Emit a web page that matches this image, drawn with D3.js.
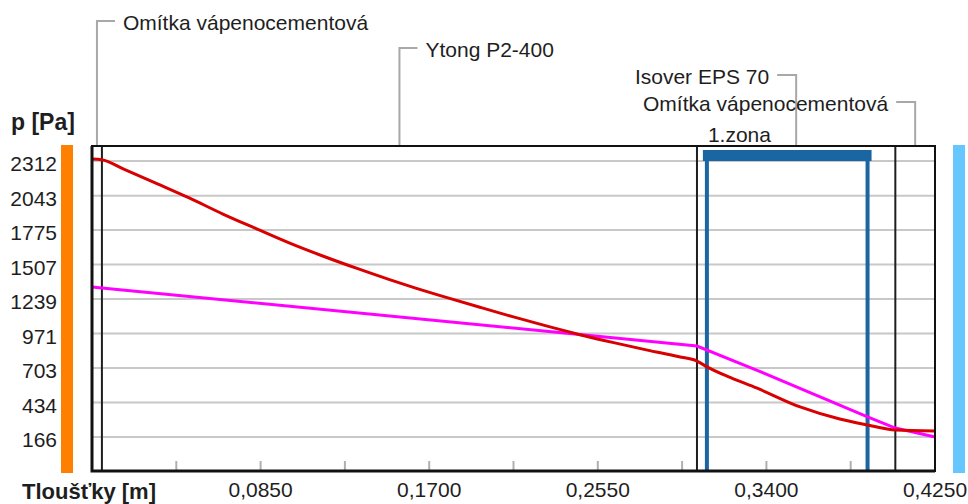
<!DOCTYPE html>
<html>
<head>
<meta charset="utf-8">
<script src="https://cdn.jsdelivr.net/npm/d3@7"></script>
<style>
  body { margin: 0; background: #fff; }
  text { font-family: "Liberation Sans", Arial, sans-serif; fill: #1e1e1e; }
</style>
</head>
<body>
<div id="grafico"></div>
<script>
// vrstvy konstrukce
const layerNames = ["Omítka vápenocementová", "Ytong P2-400", "Isover EPS 70", "Omítka vápenocementová"]
const layerThickness = [0.005, 0.300, 0.100, 0.020]

// kondenzacni zona
const zoneName = "1.zona"
const zoneFrom = 0.310
const zoneTo = 0.391

// cervena krivka (tlak nasycene vodni pary)
const satX = [0, 0.005, 0.016, 0.033, 0.049, 0.066, 0.083, 0.100, 0.117, 0.134, 0.150, 0.162, 0.179, 0.196, 0.212, 0.229, 0.246, 0.263, 0.280, 0.296, 0.305, 0.310, 0.322, 0.335, 0.357, 0.377, 0.391, 0.405, 0.425]
const satP = [2328, 2322, 2250, 2135, 2025, 1900, 1785, 1672, 1570, 1475, 1390, 1330, 1250, 1173, 1102, 1030, 962, 900, 842, 790, 757, 712, 628, 548, 400, 306, 260, 220, 213]

// fialova krivka (castecny tlak vodni pary)
const parX = [0, 0.005, 0.305, 0.335, 0.391, 0.405, 0.425]
const parP = [1332, 1325, 874, 687, 322, 236, 166]

// popisky os
const yTicks = [166, 434, 703, 971, 1239, 1507, 1775, 2043, 2312]
const xTicks = [0.085, 0.170, 0.255, 0.340, 0.425]
const xMinorTicks = [0.0425, 0.085, 0.1275, 0.170, 0.2125, 0.255, 0.2975, 0.340, 0.3825]

const W = 968, H = 504
const plot = {left: 92, right: 935, top: 146, bottom: 471}

const svg = d3.select("#grafico")
  .append("svg")
  .attr("width", W)
  .attr("height", H)

const x = d3.scaleLinear()
  .domain([0, 0.425])
  .range([plot.left, plot.right])

const y = d3.scaleLinear()
  .domain([-98, 2429])
  .range([plot.bottom, plot.top])

const fmt = v => d3.format(".4f")(v).replace(".", ",")

// barevne pruhy po stranach
svg.append("rect")
  .attr("x", 61).attr("y", 145)
  .attr("width", 12).attr("height", 328)
  .attr("fill", "#ff8000")
svg.append("rect")
  .attr("x", 953).attr("y", 145)
  .attr("width", 12).attr("height", 328)
  .attr("fill", "#66c6ff")

// mrizka
svg.append("g")
  .selectAll("line")
  .data(yTicks)
  .join("line")
    .attr("x1", plot.left).attr("x2", plot.right)
    .attr("y1", d => y(d)).attr("y2", d => y(d))
    .attr("stroke", "#c8c8c8")
    .attr("stroke-width", 2)

// popisky osy y
svg.append("g")
  .selectAll("text")
  .data(yTicks)
  .join("text")
    .attr("x", 57)
    .attr("y", d => y(d) + 10)
    .attr("text-anchor", "end")
    .attr("font-size", "21px")
    .text(d => d)

// vedlejsi znacky osy x
svg.append("g")
  .selectAll("line")
  .data(xMinorTicks)
  .join("line")
    .attr("x1", d => x(d)).attr("x2", d => x(d))
    .attr("y1", plot.bottom - 10).attr("y2", plot.bottom)
    .attr("stroke", "#b0b0b0")
    .attr("stroke-width", 2)

// popisky osy x
svg.append("g")
  .selectAll("text")
  .data(xTicks)
  .join("text")
    .attr("x", d => x(d))
    .attr("y", 497)
    .attr("text-anchor", "middle")
    .attr("font-size", "21px")
    .text(fmt)

// nazvy os
svg.append("text")
  .attr("x", 11).attr("y", 130)
  .attr("font-size", "23px")
  .attr("font-weight", "bold")
  .text("p [Pa]")
svg.append("text")
  .attr("x", 22).attr("y", 499)
  .attr("font-size", "22px")
  .attr("font-weight", "bold")
  .text("Tloušťky [m]")

// hranice vrstev
const bounds = d3.cumsum(layerThickness)
const starts = [0, ...bounds.slice(0, -1)]
svg.append("g")
  .selectAll("line")
  .data(bounds.slice(0, -1))
  .join("line")
    .attr("x1", d => x(d)).attr("x2", d => x(d))
    .attr("y1", plot.top).attr("y2", plot.bottom)
    .attr("stroke", "#1e1e1e")
    .attr("stroke-width", 2)

// odkazy na vrstvy
const labels = layerNames.map((name, i) => ({
  name,
  cx: x((starts[i] + bounds[i]) / 2),
  ly: 21 + i * 27,
  right: i < 2
}))
const lab = svg.append("g")
lab.selectAll("path")
  .data(labels)
  .join("path")
    .attr("d", d => `M${d.cx},${plot.top} V${d.ly} H${d.right ? d.cx + 18 : d.cx - 19}`)
    .attr("fill", "none")
    .attr("stroke", "#a8a8a8")
    .attr("stroke-width", 2)
lab.selectAll("text")
  .data(labels)
  .join("text")
    .attr("x", d => d.right ? d.cx + 26 : d.cx - 27)
    .attr("y", d => d.ly + 9)
    .attr("text-anchor", d => d.right ? "start" : "end")
    .attr("font-size", "21px")
    .text(d => d.name)

// kondenzacni zona
svg.append("rect")
  .attr("x", x(zoneFrom) - 4)
  .attr("y", 150)
  .attr("width", x(zoneTo) - x(zoneFrom) + 8)
  .attr("height", 11)
  .attr("fill", "#1966a3")
svg.append("g")
  .selectAll("line")
  .data([zoneFrom, zoneTo])
  .join("line")
    .attr("x1", d => x(d)).attr("x2", d => x(d))
    .attr("y1", 155).attr("y2", plot.bottom)
    .attr("stroke", "#1966a3")
    .attr("stroke-width", 4)
svg.append("text")
  .attr("x", x(zoneFrom) + 1)
  .attr("y", 142)
  .attr("font-size", "21px")
  .text(zoneName)

// krivky
const line = d3.line()
  .x(d => x(d[0]))
  .y(d => y(d[1]))

svg.append("path")
  .datum(d3.zip(parX, parP))
  .attr("d", line)
  .attr("fill", "none")
  .attr("stroke", "#ff00ff")
  .attr("stroke-width", 3)

svg.append("path")
  .datum(d3.zip(satX, satP))
  .attr("d", line.curve(d3.curveMonotoneX))
  .attr("fill", "none")
  .attr("stroke", "#d80000")
  .attr("stroke-width", 3)

// ramecek
svg.append("rect")
  .attr("x", plot.left).attr("y", plot.top)
  .attr("width", plot.right - plot.left)
  .attr("height", plot.bottom - plot.top)
  .attr("fill", "none")
  .attr("stroke", "#111")
  .attr("stroke-width", 2)
svg.append("path")
  .attr("d", `M${plot.left},${plot.top} V${plot.bottom} H${plot.right}`)
  .attr("fill", "none")
  .attr("stroke", "#111")
  .attr("stroke-width", 3)
</script>
</body>
</html>
